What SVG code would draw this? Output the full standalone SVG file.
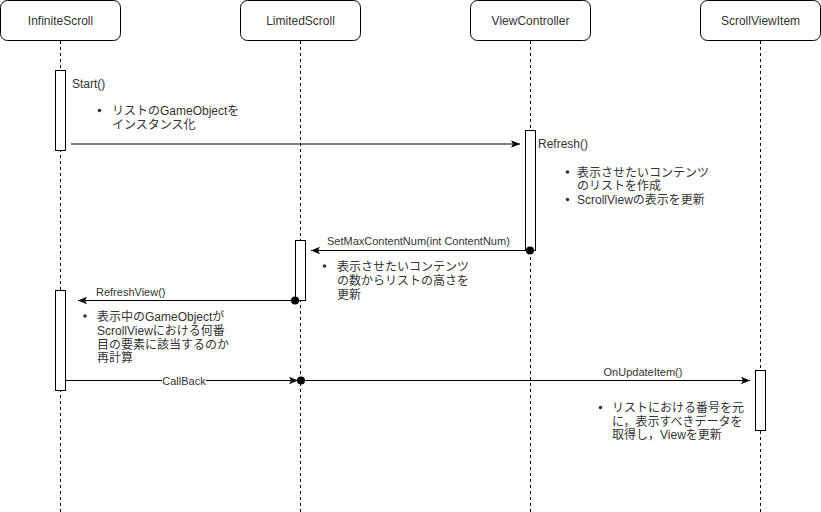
<svg xmlns="http://www.w3.org/2000/svg" width="821" height="512" viewBox="0 0 821 512">
<style>
text{font-family:"Liberation Sans","Noto Sans CJK JP",sans-serif;fill:#333;}
.hd{font-size:12px;text-anchor:middle;}
.lb{font-size:11px;}
.bt{font-size:12px;}
.box{fill:#fff;stroke:#000;stroke-width:1;}
.life{stroke:#000;stroke-width:1;stroke-dasharray:3 3;fill:none;}
.act{fill:#fff;stroke:#000;stroke-width:1;}
.msg{stroke:#000;stroke-width:1;fill:none;}
.dot{fill:#000;}
.bul{fill:#333;}
</style>
<defs>
<marker id="arr" markerUnits="userSpaceOnUse" markerWidth="12" markerHeight="10" viewBox="0 0 12 10" refX="10" refY="5" orient="auto">
<path d="M1,1.2 L10,5 L1,8.8 L3,5 z" fill="#000"/>
</marker>
</defs>

<g id="InfiniteScroll">
<rect class="box" x="0.5" y="0.5" width="120" height="40" rx="7"/>
<text class="hd" x="60.5" y="25">InfiniteScroll</text>
<line class="life" x1="60.5" y1="41" x2="60.5" y2="512"/>
</g>
<g id="LimitedScroll">
<rect class="box" x="240.5" y="0.5" width="120" height="40" rx="7"/>
<text class="hd" x="300.5" y="25">LimitedScroll</text>
<line class="life" x1="300.5" y1="41" x2="300.5" y2="512"/>
</g>
<g id="ViewController">
<rect class="box" x="470.5" y="0.5" width="120" height="40" rx="7"/>
<text class="hd" x="530.5" y="25">ViewController</text>
<line class="life" x1="530.5" y1="41" x2="530.5" y2="512"/>
</g>
<g id="ScrollViewItem">
<rect class="box" x="700.5" y="0.5" width="120" height="40" rx="7"/>
<text class="hd" x="760.5" y="25">ScrollViewItem</text>
<line class="life" x1="760.5" y1="41" x2="760.5" y2="512"/>
</g>

<g id="act-infinite-1">
<rect class="act" x="55.5" y="70.5" width="10" height="80"/>
<text class="bt" x="72" y="88">Start()</text>
<circle class="bul" cx="99.5" cy="110.5" r="1.8"/>
<text class="bt" x="112" y="115">リストのGameObjectを</text>
<text class="bt" x="112" y="129">インスタンス化</text>
</g>
<g id="act-viewcontroller">
<rect class="act" x="525.5" y="130.5" width="10" height="120"/>
<text class="bt" x="538" y="148">Refresh()</text>
<circle class="bul" cx="567.5" cy="172" r="1.8"/>
<text class="bt" x="577" y="176.5">表示させたいコンテンツ</text>
<text class="bt" x="577" y="190">のリストを作成</text>
<circle class="bul" cx="567.5" cy="199.5" r="1.8"/>
<text class="bt" x="577" y="204">ScrollViewの表示を更新</text>
</g>
<g id="act-limited">
<rect class="act" x="295.5" y="240.5" width="10" height="60"/>
<circle class="bul" cx="324.5" cy="266" r="1.8"/>
<text class="bt" x="337" y="270.5">表示させたいコンテンツ</text>
<text class="bt" x="337" y="284.5">の数からリストの高さを</text>
<text class="bt" x="337" y="298.5">更新</text>
</g>
<g id="act-infinite-2">
<rect class="act" x="55.5" y="290.5" width="10" height="100"/>
<circle class="bul" cx="85" cy="316" r="1.8"/>
<text class="bt" x="97" y="320.5">表示中のGameObjectが</text>
<text class="bt" x="97" y="334.5">ScrollViewにおける何番</text>
<text class="bt" x="97" y="348.5">目の要素に該当するのか</text>
<text class="bt" x="97" y="362">再計算</text>
</g>
<g id="act-scrollviewitem">
<rect class="act" x="755.5" y="370.5" width="10" height="60"/>
<circle class="bul" cx="600.5" cy="407.5" r="1.8"/>
<text class="bt" x="612" y="412">リストにおける番号を元</text>
<text class="bt" x="612" y="425.5">に，表示すべきデータを</text>
<text class="bt" x="612" y="439">取得し，Viewを更新</text>
</g>

<g id="connectors">
<line class="msg" x1="71" y1="144" x2="520" y2="144" marker-end="url(#arr)"/>
<line class="msg" x1="530" y1="250.5" x2="311" y2="250.5" marker-end="url(#arr)"/>
<circle class="dot" cx="530" cy="250.5" r="4"/>
<text class="lb" x="327" y="245">SetMaxContentNum(int ContentNum)</text>
<line class="msg" x1="295" y1="300.5" x2="78" y2="300.5" marker-end="url(#arr)"/>
<circle class="dot" cx="295" cy="300.5" r="4"/>
<text class="lb" x="96" y="295.5">RefreshView()</text>
<line class="msg" x1="66" y1="380.5" x2="298" y2="380.5" marker-end="url(#arr)"/>
<rect x="162" y="374" width="44" height="13" fill="#fff"/>
<text class="lb" x="184" y="384.5" text-anchor="middle">CallBack</text>
<line class="msg" x1="301" y1="380.5" x2="750" y2="380.5" marker-end="url(#arr)"/>
<circle class="dot" cx="301" cy="380.5" r="4"/>
<text class="lb" x="643" y="375.5" text-anchor="middle">OnUpdateItem()</text>
</g>
</svg>
